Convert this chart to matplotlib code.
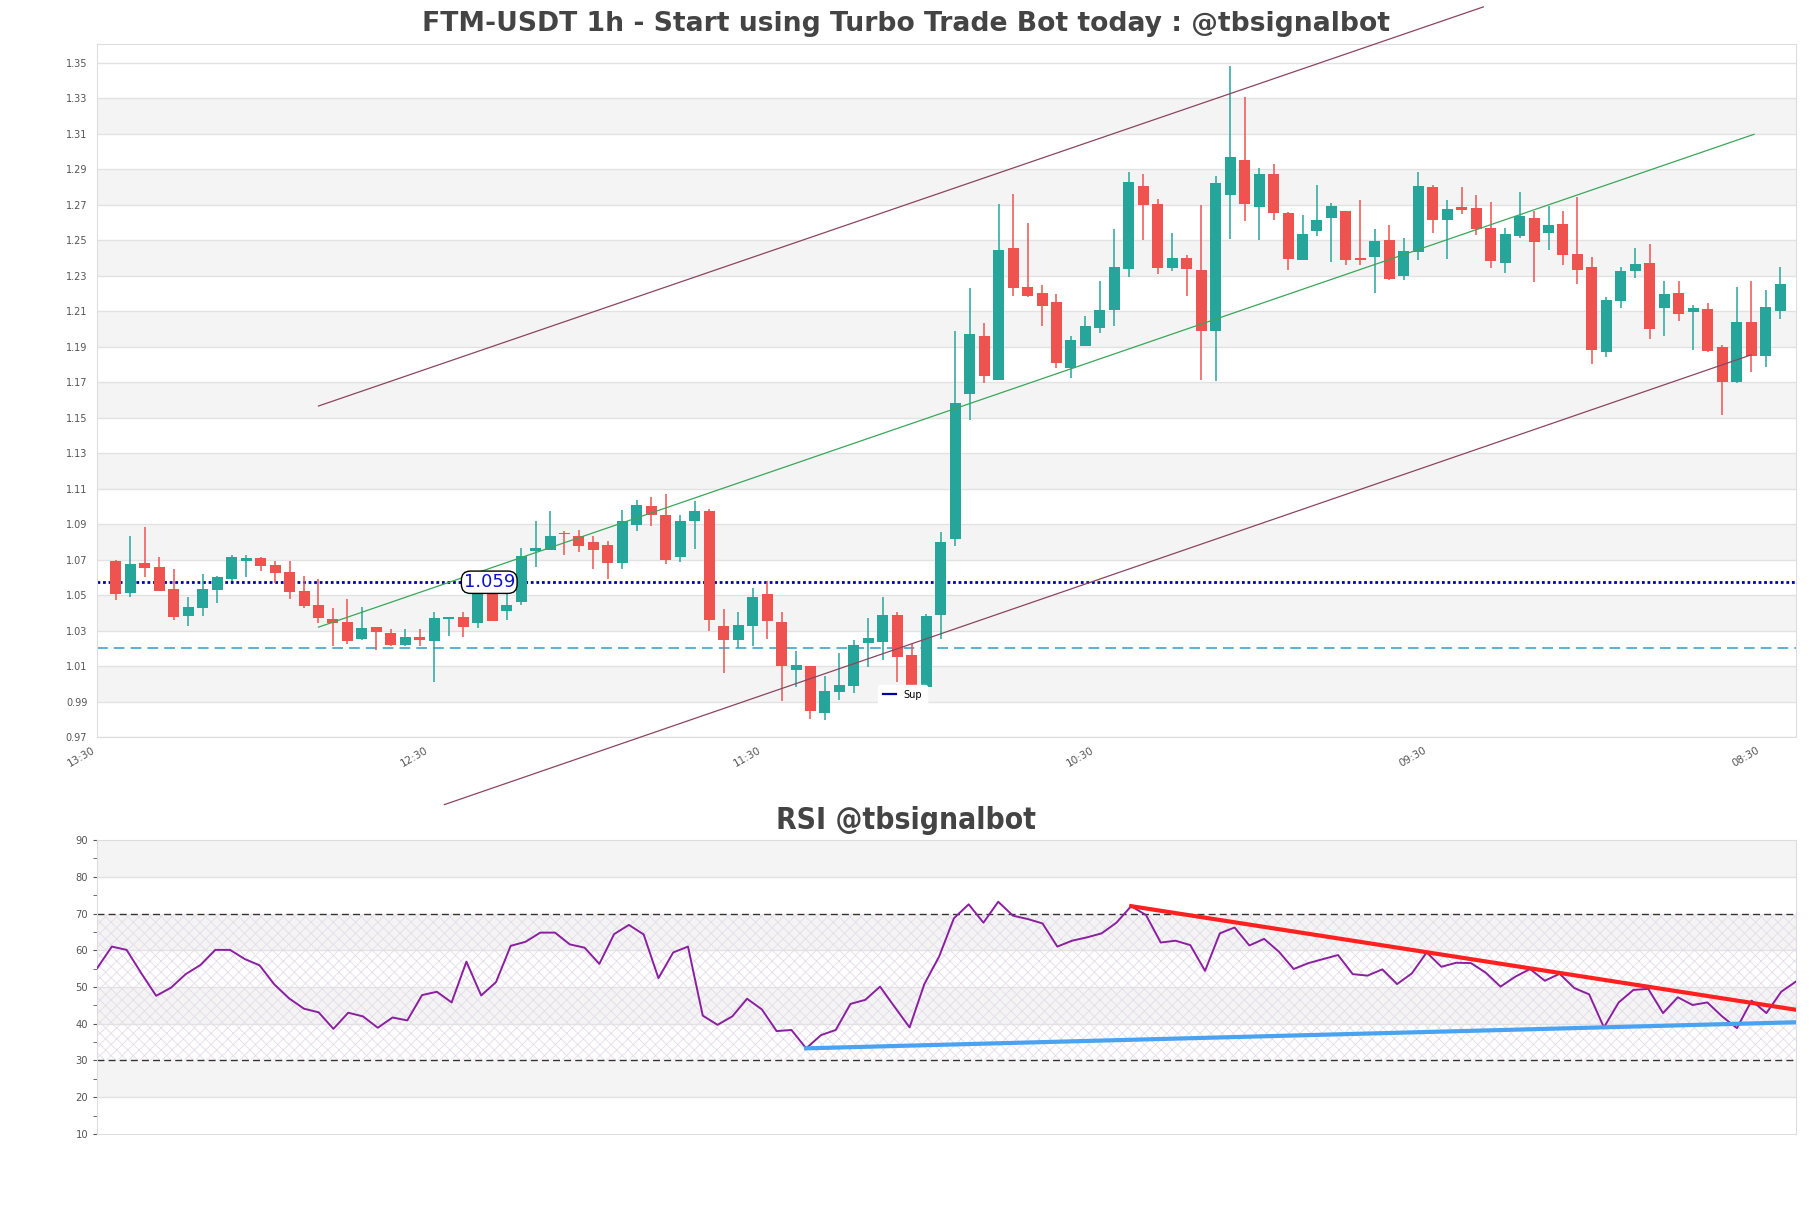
import numpy as np
import matplotlib
matplotlib.use("Agg")
import matplotlib.pyplot as plt
from matplotlib.lines import Line2D
from matplotlib.font_manager import FontProperties

# candle OHLC (1h candles, left to right)
opens = [1.0694, 1.0513, 1.0680, 1.0657, 1.0533, 1.0383, 1.0426, 1.0530, 1.0593, 1.0694,
         1.0709, 1.0668, 1.0628, 1.0521, 1.0446, 1.0363, 1.0346, 1.0253, 1.0322, 1.0288,
         1.0219, 1.0265, 1.0242, 1.0365, 1.0378, 1.0341, 1.0526, 1.0410, 1.0461, 1.0747,
         1.0756, 1.0850, 1.0835, 1.0797, 1.0784, 1.0678, 1.0896, 1.1003, 1.0952, 1.0715,
         1.0919, 1.0976, 1.0328, 1.0245, 1.0324, 1.0506, 1.0348, 1.0080, 1.0098, 0.9835,
         0.9952, 0.9989, 1.0230, 1.0234, 1.0390, 1.0164, 0.9980, 1.0390, 1.0813, 1.1630,
         1.1959, 1.1710, 1.2456, 1.2238, 1.2203, 1.2149, 1.1777, 1.1905, 1.2007, 1.2104,
         1.2338, 1.2807, 1.2705, 1.2345, 1.2399, 1.2333, 1.1990, 1.2754, 1.2951, 1.2685,
         1.2875, 1.2653, 1.2389, 1.2549, 1.2623, 1.2666, 1.2399, 1.2402, 1.2502, 1.2295,
         1.2433, 1.2798, 1.2611, 1.2687, 1.2681, 1.2568, 1.2371, 1.2522, 1.2624, 1.2541,
         1.2591, 1.2420, 1.2346, 1.1869, 1.2156, 1.2328, 1.2369, 1.2115, 1.2202, 1.2093,
         1.2113, 1.1896, 1.1698, 1.2041, 1.1846, 1.2100]
highs = [1.0700, 1.0830, 1.0882, 1.0714, 1.0645, 1.0487, 1.0616, 1.0608, 1.0723, 1.0723,
         1.0717, 1.0694, 1.0694, 1.0608, 1.0593, 1.0429, 1.0476, 1.0435, 1.0322, 1.0311,
         1.0311, 1.0311, 1.0406, 1.0378, 1.0402, 1.0570, 1.0560, 1.0532, 1.0765, 1.0919,
         1.0975, 1.0859, 1.0868, 1.0831, 1.0807, 1.0980, 1.1036, 1.1055, 1.1070, 1.0952,
         1.1031, 1.0986, 1.0422, 1.0405, 1.0540, 1.0578, 1.0405, 1.0183, 1.0102, 1.0046,
         1.0174, 1.0249, 1.0371, 1.0488, 1.0403, 1.0226, 1.0395, 1.0854, 1.1985, 1.2231,
         1.2033, 1.2705, 1.2759, 1.2598, 1.2246, 1.2198, 1.1959, 1.2073, 1.2269, 1.2563,
         1.2885, 1.2873, 1.2731, 1.2541, 1.2416, 1.2700, 1.2859, 1.3481, 1.3304, 1.2907,
         1.2930, 1.2659, 1.2643, 1.2813, 1.2709, 1.2666, 1.2728, 1.2564, 1.2587, 1.2512,
         1.2883, 1.2813, 1.2728, 1.2798, 1.2756, 1.2715, 1.2568, 1.2769, 1.2665, 1.2693,
         1.2665, 1.2744, 1.2402, 1.2180, 1.2350, 1.2457, 1.2476, 1.2272, 1.2272, 1.2133,
         1.2143, 1.1911, 1.2235, 1.2272, 1.2217, 1.2350]
lows = [1.0472, 1.0487, 1.0600, 1.0520, 1.0357, 1.0325, 1.0383, 1.0455, 1.0579, 1.0600,
        1.0637, 1.0570, 1.0476, 1.0426, 1.0343, 1.0210, 1.0222, 1.0248, 1.0190, 1.0210,
        1.0210, 1.0210, 1.0010, 1.0268, 1.0264, 1.0313, 1.0354, 1.0360, 1.0442, 1.0657,
        1.0756, 1.0728, 1.0741, 1.0644, 1.0588, 1.0644, 1.0863, 1.0887, 1.0672, 1.0685,
        1.0760, 1.0296, 1.0061, 1.0202, 1.0211, 1.0253, 0.9901, 0.9982, 0.9801, 0.9794,
        0.9911, 0.9948, 1.0095, 1.0136, 1.0008, 0.9975, 0.9975, 1.0253, 1.0775, 1.1486,
        1.1694, 1.1710, 1.2184, 1.2179, 1.2014, 1.1782, 1.1722, 1.1905, 1.1978, 1.2018,
        1.2293, 1.2499, 1.2310, 1.2328, 1.2184, 1.1713, 1.1706, 1.2504, 1.2610, 1.2502,
        1.2611, 1.2333, 1.2386, 1.2521, 1.2374, 1.2361, 1.2361, 1.2201, 1.2276, 1.2273,
        1.2386, 1.2540, 1.2395, 1.2647, 1.2527, 1.2342, 1.2314, 1.2512, 1.2263, 1.2443,
        1.2361, 1.2250, 1.1804, 1.1841, 1.2120, 1.2287, 1.1943, 1.1961, 1.2044, 1.1883,
        1.1869, 1.1517, 1.1694, 1.1754, 1.1787, 1.2054]
closes = [1.0507, 1.0674, 1.0654, 1.0524, 1.0377, 1.0435, 1.0533, 1.0600, 1.0712, 1.0709,
          1.0665, 1.0622, 1.0518, 1.0438, 1.0371, 1.0343, 1.0242, 1.0317, 1.0291, 1.0219,
          1.0265, 1.0248, 1.0368, 1.0378, 1.0320, 1.0526, 1.0354, 1.0442, 1.0719, 1.0765,
          1.0835, 1.0844, 1.0775, 1.0756, 1.0678, 1.0919, 1.1008, 1.0952, 1.0700, 1.0919,
          1.0975, 1.0362, 1.0249, 1.0333, 1.0489, 1.0352, 1.0098, 1.0108, 0.9845, 0.9961,
          0.9995, 1.0221, 1.0258, 1.0390, 1.0149, 0.9980, 1.0380, 1.0798, 1.1583, 1.1971,
          1.1734, 1.2444, 1.2231, 1.2186, 1.2127, 1.1805, 1.1936, 1.2014, 1.2108, 1.2350,
          1.2828, 1.2695, 1.2345, 1.2399, 1.2338, 1.1990, 1.2823, 1.2967, 1.2705, 1.2875,
          1.2653, 1.2395, 1.2536, 1.2615, 1.2694, 1.2389, 1.2386, 1.2497, 1.2282, 1.2436,
          1.2803, 1.2611, 1.2675, 1.2668, 1.2563, 1.2380, 1.2536, 1.2635, 1.2491, 1.2583,
          1.2415, 1.2331, 1.1883, 1.2161, 1.2328, 1.2365, 1.1998, 1.2194, 1.2081, 1.2115,
          1.1874, 1.1702, 1.2041, 1.1846, 1.2124, 1.2250]

rsi = [55.1, 61.0, 60.1, 53.7, 47.6, 49.8, 53.5, 56.0, 60.1, 60.1,
       57.6, 55.9, 50.7, 46.9, 44.1, 43.1, 38.6, 43.0, 42.0, 38.9,
       41.7, 40.9, 47.8, 48.7, 45.8, 56.9, 47.7, 51.3, 61.2, 62.3,
       64.8, 64.8, 61.6, 60.7, 56.3, 64.4, 66.9, 64.3, 52.4, 59.4,
       61.0, 42.2, 39.7, 42.0, 46.8, 43.9, 38.0, 38.3, 33.3, 36.9,
       38.3, 45.4, 46.5, 50.1, 44.5, 39.0, 50.8, 58.3, 68.7, 72.5,
       67.5, 73.2, 69.4, 68.5, 67.3, 61.0, 62.6, 63.5, 64.6, 67.5,
       72.0, 69.6, 62.1, 62.6, 61.4, 54.4, 64.6, 66.2, 61.3, 63.1,
       59.6, 54.9, 56.5, 57.6, 58.7, 53.5, 53.1, 54.8, 50.8, 53.7,
       59.4, 55.5, 56.6, 56.5, 53.9, 50.1, 52.8, 54.9, 51.7, 53.6,
       49.7, 48.0, 39.0, 45.8, 49.2, 49.5, 42.9, 47.2, 45.1, 45.8,
       42.0, 38.8, 46.3, 42.9, 48.7, 51.5]

tick_pos = [-1.3, 21.7, 44.7, 67.7, 90.7, 113.7]
tick_labels = ["13:30", "12:30", "11:30", "10:30", "09:30", "08:30"]

sup_level = 1.0572
sup_text = "1.059"
dash_level = 1.0203

# channel lines (candle index, price)
upper_x, upper_y = [14, 94.5], [1.1565, 1.3814]
mid_x, mid_y = [14, 113.2], [1.0319, 1.3096]
lower_x, lower_y = [22.7, 113], [0.9319, 1.1853]

# rsi trend lines (rsi index, value)
rsi_res_x, rsi_res_y = [70, 115], [72.0, 43.8]
rsi_sup_x, rsi_sup_y = [48, 115], [33.3, 40.4]

UP = "#26a69a"
DOWN = "#ef5350"
BAND = "#f4f4f4"
GRID = "#e2e2e2"

plt.rcParams["hatch.linewidth"] = 0.6

cond = FontProperties(family="DejaVu Sans", stretch="condensed")
cond_bold = FontProperties(family="DejaVu Sans", stretch="condensed", weight="bold", size=21.5)

fig = plt.figure(figsize=(18.11, 12.08), dpi=100)
ax = fig.add_axes([0.0536, 0.3899, 0.9381, 0.5737])
ax2 = fig.add_axes([0.0536, 0.0613, 0.9381, 0.2433])

n = len(opens)
x = np.arange(n)
o = np.array(opens); h = np.array(highs); l = np.array(lows); c = np.array(closes)
up = c >= o

# ---- price panel ----
yticks = np.round(np.arange(0.97, 1.351, 0.02), 2)
ax.set_ylim(0.97, 1.3605)
ax.set_xlim(-1.03, 116.1)
for k in range(len(yticks) - 1):
    if k % 2 == 1:
        ax.axhspan(yticks[k], yticks[k + 1], color=BAND, lw=0, zorder=0)
for t in yticks:
    ax.axhline(t, color=GRID, lw=1, zorder=0.5)

ax.axhline(sup_level, color="#0000b0", lw=2, ls=(0, (1, 1)), zorder=1)
ax.axhline(dash_level, color="#2b9cc8", lw=1.1, ls=(0, (7, 4)), zorder=1)

cols = np.where(up, UP, DOWN)
ax.vlines(x, l, h, colors=cols, lw=1.1, zorder=2)
body = np.maximum(np.abs(c - o), 0.0007)
ax.bar(x, body, 0.76, bottom=np.minimum(o, c), color=cols, lw=0, zorder=3)

ax.plot(upper_x, upper_y, color="#8b4560", lw=0.9, clip_on=False, zorder=4)
ax.plot(lower_x, lower_y, color="#8b4560", lw=0.9, clip_on=False, zorder=4)
ax.plot(mid_x, mid_y, color="#3aa65a", lw=0.9, zorder=4)

ax.text(25.8, sup_level, sup_text, color="#1010d0", fontsize=13, ha="center", va="center",
        zorder=6, bbox=dict(boxstyle="round,pad=0.12,rounding_size=0.5", fc="white", ec="black", lw=1))

ax.legend(handles=[Line2D([], [], color="#0000b0", lw=1.6)], labels=["Sup"], loc="lower left",
          bbox_to_anchor=(0.457, 0.04), fontsize=7, frameon=True, framealpha=1, edgecolor="white",
          handlelength=1.3, borderpad=0.5)

ax.set_yticks(yticks)
ax.set_yticklabels([f"{t:.2f}" for t in yticks])
ax.set_xticks(tick_pos)
ax.set_xticklabels(tick_labels, rotation=30, ha="right")
ax.tick_params(axis="y", length=0, labelsize=7, colors="#555555", pad=7)
ax.tick_params(axis="x", length=0, labelsize=7.5, colors="#555555", pad=6)
for s in ax.spines.values():
    s.set_color("#dddddd")

fig.text(0.5, 0.980, "FTM-USDT 1h - Start using Turbo Trade Bot today : @tbsignalbot",
         ha="center", va="center", fontsize=19.2, fontweight="bold", color="#444444")

# ---- rsi panel ----
xr = np.arange(len(rsi))
ax2.set_xlim(0, len(rsi) - 1)
ax2.set_ylim(10, 90)
for lo in (20, 40, 60, 80):
    ax2.axhspan(lo, lo + 10, color=BAND, lw=0, zorder=0)
for t in (20, 40, 50, 60, 80):
    ax2.axhline(t, color=GRID, lw=1, zorder=0.5)
ax2.fill_between([0, len(rsi) - 1], 30, 70, facecolor="none", edgecolor="#e4dce9", hatch="xxx",
                 lw=0, zorder=0.6)
ax2.axhline(70, color="#333333", lw=1, ls=(0, (5, 3)), zorder=1)
ax2.axhline(30, color="#333333", lw=1, ls=(0, (5, 3)), zorder=1)
ax2.plot(xr, rsi, color="#8a1fa0", lw=1.4, zorder=3)
ax2.plot(rsi_res_x, rsi_res_y, color="#ff2020", lw=3, zorder=4)
ax2.plot(rsi_sup_x, rsi_sup_y, color="#4aa3f0", lw=3, zorder=4)

ax2.set_yticks(range(10, 91, 10))
ax2.set_yticks(range(15, 90, 10), minor=True)
ax2.set_xticks([])
for lab in ax2.get_yticklabels():
    lab.set_fontproperties(cond)
    lab.set_fontsize(8)
ax2.tick_params(axis="y", which="both", length=3, colors="#555555", labelsize=8)
for s in ax2.spines.values():
    s.set_color("#dddddd")

fig.text(0.5, 0.321, "RSI @tbsignalbot", ha="center", va="center", fontproperties=cond_bold,
         color="#444444")

fig.savefig("out.png", dpi=100)
